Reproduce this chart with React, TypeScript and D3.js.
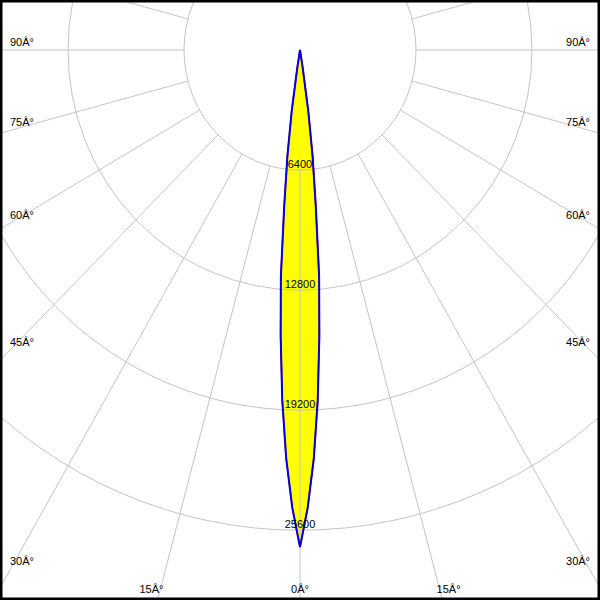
import React, { useEffect } from "react";
import * as d3 from "d3";

// Polar photometric data (degrees from nadir, cd)
const anglesDeg = [0, 1, 2, 3, 4, 5, 6, 7, 8, 9, 10];
const intensityC0 = [26500, 24400, 21800, 18700, 15300, 12100, 8300, 5700, 3300, 900, 0];
const intensityC90 = [26500, 24400, 21800, 18700, 15300, 12100, 8300, 5700, 3300, 900, 0];

const ringValues = [6400, 12800, 19200, 25600];
const ringLabels = ["6400", "12800", "19200", "25600"];

const spokeAngles = [0, 15, 30, 45, 60, 75, 90, 105, 120, 135, 150, 165, 180, 195, 210, 225, 240, 255, 270, 285, 300, 315, 330, 345];

const sideLabelAngles = [90, 75, 60, 45, 30];
const sideLabels = ["90Â°", "75Â°", "60Â°", "45Â°", "30Â°"];
const bottomLabelAngles = [-15, 0, 15];
const bottomLabels = ["15Â°", "0Â°", "15Â°"];

const W = 600;
const H = 600;
const cx = 300;
const cy = 50;
const yFactor = 1.035;
const GRID = "#c4c4c4";
const FONT = "'Liberation Sans', Arial, sans-serif";

export default function App() {
  useEffect(() => {
    document.body.style.margin = "0";
  }, []);

  const r = d3.scaleLinear().domain([0, 6400]).range([0, 116]);
  const pt = (deg: number, I: number): [number, number] => {
    const a = (deg * Math.PI) / 180;
    return [cx + r(I) * Math.sin(a), cy + r(I) * yFactor * Math.cos(a)];
  };

  const curvePoints = (vals: number[]) => {
    const right = anglesDeg.map((a, i) => pt(a, vals[i]));
    const left = anglesDeg.map((a, i) => pt(-a, vals[i])).reverse();
    return [...left, ...right.slice(1)];
  };
  const line = d3.line<[number, number]>().curve(d3.curveLinearClosed);
  const pathC0 = line(curvePoints(intensityC0)) || "";
  const pathC90 = line(curvePoints(intensityC90)) || "";

  const inner = ringValues[0];
  const far = 80000;

  return (
    <svg
      width={W}
      height={H}
      style={{ position: "absolute", left: 0, top: 0, background: "#fff" }}
      fontFamily={FONT}
      fontSize={11}
    >
      <rect x={0} y={0} width={W} height={H} fill="#fff" />
      <path d={pathC0} fill="#ffff00" stroke="none" />
      <g stroke={GRID} strokeWidth={1} fill="none">
        {ringValues.map((v) => (
          <ellipse key={v} cx={cx} cy={cy} rx={r(v)} ry={r(v) * yFactor} />
        ))}
        {spokeAngles.map((a) => {
          const p0 = pt(a, inner);
          const p1 = pt(a, far);
          return <line key={a} x1={p0[0]} y1={p0[1]} x2={p1[0]} y2={p1[1]} />;
        })}
      </g>
      <path d={pathC0} fill="none" stroke="#ff0000" strokeWidth={1.5} />
      <path d={pathC90} fill="none" stroke="#0000e0" strokeWidth={2} />
      <g fill="#000">
        {ringValues.map((v, i) => (
          <text key={v} x={cx} y={cy + r(v) * yFactor - 2} textAnchor="middle">
            {ringLabels[i]}
          </text>
        ))}
        {sideLabelAngles.map((a, i) => {
          const rad = (a * Math.PI) / 180;
          const yy = Math.min(565, cy + ((cx - 10) * yFactor * Math.cos(rad)) / Math.sin(rad) - 4);
          return (
            <g key={a}>
              <text x={10} y={yy}>{sideLabels[i]}</text>
              <text x={W - 10} y={yy} textAnchor="end">{sideLabels[i]}</text>
            </g>
          );
        })}
        {bottomLabelAngles.map((a, i) => {
          const rad = (a * Math.PI) / 180;
          const yb = 593;
          const t = (yb - cy) / (yFactor * Math.cos(rad));
          const xs = cx + t * Math.sin(rad);
          const anchor = a < 0 ? "end" : a > 0 ? "start" : "middle";
          const xx = a < 0 ? xs + 4 : a > 0 ? xs - 4 : xs;
          return (
            <text key={i} x={xx} y={yb} textAnchor={anchor}>
              {bottomLabels[i]}
            </text>
          );
        })}
      </g>
      <rect x={0} y={0} width={W} height={H} fill="none" stroke="#000" strokeWidth={5} />
    </svg>
  );
}
